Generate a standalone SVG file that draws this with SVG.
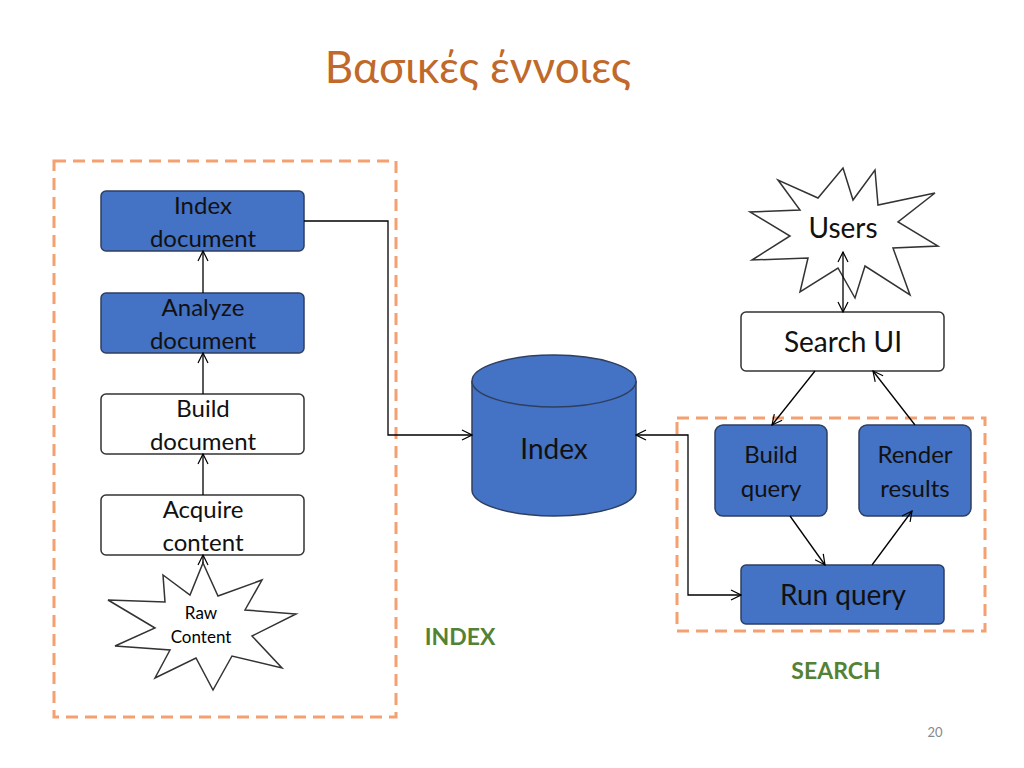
<svg xmlns="http://www.w3.org/2000/svg" width="1024" height="768" viewBox="0 0 1024 768">
<defs>
<marker id="a" markerWidth="12" markerHeight="12" refX="11" refY="6" orient="auto-start-reverse" markerUnits="userSpaceOnUse"><path d="M1,1 L11,6 L1,11" fill="none" stroke="#000" stroke-width="1.2"/></marker>
</defs>
<style>
text{font-family:Lato,"Open Sans","Liberation Sans",sans-serif;text-anchor:middle}
.b{fill:#4472C4;stroke:#2F3F5F;stroke-width:1.5}
.w{fill:#fff;stroke:#333;stroke-width:1.5}
.t{font-size:24px;fill:#111}
.dash{fill:none;stroke:#F4A070;stroke-width:3;stroke-dasharray:12,7}
.c{fill:none;stroke:#000;stroke-width:1.3}
.g{font-size:23px;font-weight:bold;fill:#548235}
</style>
<rect width="1024" height="768" fill="#fff"/>
<text x="478" y="83" style="font-size:44px;fill:#C0692A">Βασικές έννοιες</text>
<rect class="dash" x="54" y="161" width="342" height="556"/>
<rect class="dash" x="677" y="418" width="308" height="213"/>
<g id="index-document"><rect class="b" x="101" y="191" width="203" height="60" rx="5"/><text class="t" x="203" y="214">Index</text><text class="t" x="203" y="247">document</text></g>
<g id="analyze-document"><rect class="b" x="101" y="293" width="203" height="60" rx="5"/><text class="t" x="203" y="316">Analyze</text><text class="t" x="203" y="349">document</text></g>
<g id="build-document"><rect class="w" x="101" y="394" width="203" height="60" rx="5"/><text class="t" x="203" y="417">Build</text><text class="t" x="203" y="450">document</text></g>
<g id="acquire-content"><rect class="w" x="101" y="495" width="203" height="60" rx="5"/><text class="t" x="203" y="518">Acquire</text><text class="t" x="203" y="551">content</text></g>
<g id="raw-content"><polygon class="w" points="203,563 218,596 262,580 245,610 296,614 252,636 282,668 232,656 213,690 196,658 155,678 170,650 115,646 155,628 108,600 165,602 163,575 190,595"/><text x="201" y="619" style="font-size:17px">Raw</text><text x="201" y="643" style="font-size:17px">Content</text></g>
<g id="index"><path class="b" d="M472,381 V490 A82,26 0 0 0 636,490 V381"/><ellipse class="b" cx="554" cy="381" rx="82" ry="26"/><text x="554" y="459" style="font-size:28px;fill:#111">Index</text></g>
<g id="users"><polygon class="w" points="843,168 853,200 875,170 878,205 935,193 898,222 938,246 893,248 910,295 865,266 855,298 838,268 800,292 808,258 752,260 790,236 750,212 800,210 778,180 818,198"/><text x="843" y="238" style="font-size:28px;fill:#111">Users</text></g>
<g id="search-ui"><rect class="w" x="741" y="312" width="203" height="59" rx="5"/><text x="843" y="352" style="font-size:28px;fill:#111">Search UI</text></g>
<g id="build-query"><rect class="b" x="715" y="425" width="112" height="91" rx="8"/><text class="t" x="771" y="463">Build</text><text class="t" x="771" y="497">query</text></g>
<g id="render-results"><rect class="b" x="859" y="425" width="112" height="91" rx="8"/><text class="t" x="915" y="463">Render</text><text class="t" x="915" y="497">results</text></g>
<g id="run-query"><rect class="b" x="741" y="565" width="203" height="59" rx="5"/><text x="843" y="605" style="font-size:28px;fill:#111">Run query</text></g>
<g id="connectors">
<line class="c" x1="203" y1="563" x2="203" y2="555" marker-end="url(#a)"/>
<line class="c" x1="203" y1="495" x2="203" y2="454" marker-end="url(#a)"/>
<line class="c" x1="203" y1="394" x2="203" y2="353" marker-end="url(#a)"/>
<line class="c" x1="203" y1="293" x2="203" y2="251" marker-end="url(#a)"/>
<polyline class="c" points="304,221 388,221 388,435 472,435" marker-end="url(#a)"/>
<polyline class="c" points="741,595 688,595 688,435 636,435" marker-start="url(#a)" marker-end="url(#a)"/>
<line class="c" x1="843" y1="252" x2="843" y2="312" marker-start="url(#a)" marker-end="url(#a)"/>
<line class="c" x1="815" y1="371" x2="772" y2="425" marker-end="url(#a)"/>
<line class="c" x1="915" y1="425" x2="873" y2="371" marker-end="url(#a)"/>
<line class="c" x1="790" y1="516" x2="825" y2="565" marker-end="url(#a)"/>
<line class="c" x1="872" y1="565" x2="912" y2="511" marker-end="url(#a)"/>
</g>
<text class="g" x="460" y="645">INDEX</text>
<text class="g" x="836" y="679">SEARCH</text>
<text x="935" y="737" style="font-size:13px;fill:#888">20</text>
</svg>
